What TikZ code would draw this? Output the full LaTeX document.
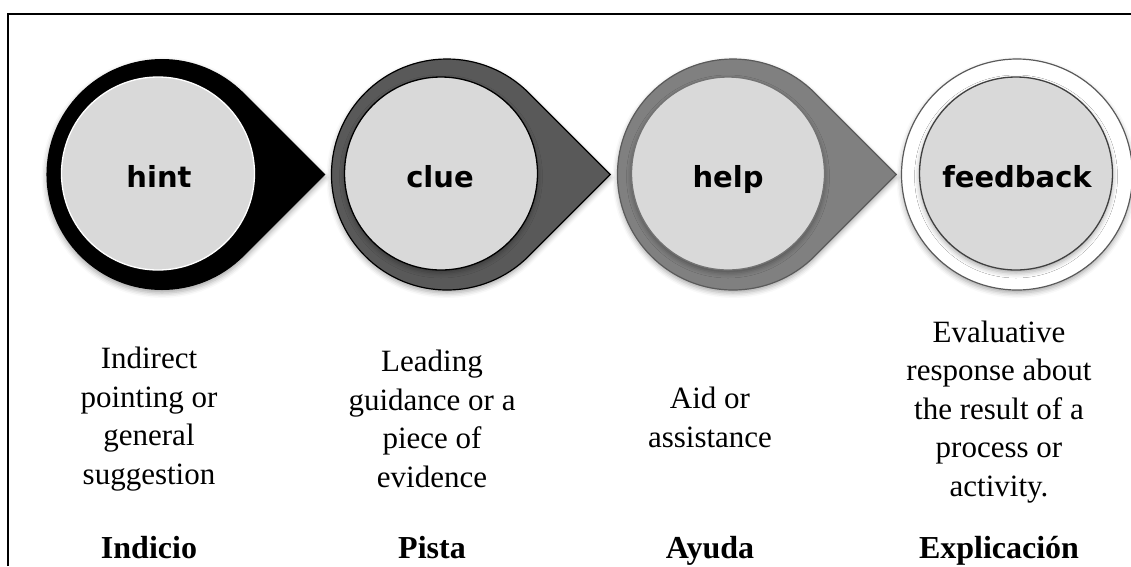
\documentclass[tikz,border=0pt]{standalone}
\usepackage{fontspec}
\setmainfont{Liberation Serif}
\newfontfamily\stepfont{DejaVu Sans}
\usetikzlibrary{shadows.blur}

\definecolor{ringmid}{HTML}{595959}
\definecolor{ringlight}{HTML}{808080}
\definecolor{ringedge}{HTML}{5A5A5A}
\definecolor{corefill}{HTML}{D9D9D9}

\begin{document}
\begin{tikzpicture}[x=1pt,y=1pt,
  softshadow/.style={blur shadow={shadow xshift=0pt,shadow yshift=-3pt,shadow blur radius=5pt,shadow opacity=35}},
  drop/.style={softshadow, line width=1.2pt},
  core/.style={circle, minimum size=193pt, inner sep=0pt, fill=corefill, line width=1.3pt, softshadow},
  steplabel/.style={anchor=base, font=\stepfont\bfseries\fontsize{29}{35}\selectfont},
  desc/.style={align=center, font=\fontsize{31}{38.5}\selectfont},
  term/.style={anchor=base, font=\bfseries\fontsize{32}{38}\selectfont},
]
\useasboundingbox (0,0) rectangle (1131,-566);

% frame
\draw[line width=2pt] (7.5,-566) -- (7.5,-13.5) -- (1131,-13.5);

% centres of the outer rings
\coordinate (c1) at (162,-174.5);
\coordinate (c2) at (447,-174.5);
\coordinate (c3) at (733,-174.5);
\coordinate (c4) at (1017,-174.5);

% teardrop rings pointing to the next step
\path[drop, fill=black]
  (c1) ++(0:163.3) -- ++(135:115.5) arc[start angle=45,end angle=315,radius=115.5] -- cycle;
\path[drop, fill=ringmid, draw=black]
  (c2) ++(0:163.3) -- ++(135:115.5) arc[start angle=45,end angle=315,radius=115.5] -- cycle;
\path[drop, fill=ringlight, draw=ringedge]
  (c3) ++(0:163.3) -- ++(135:115.5) arc[start angle=45,end angle=315,radius=115.5] -- cycle;
\node[drop, circle, minimum size=231pt, inner sep=0pt, fill=white, draw=ringedge] (fbring) at (c4) {};

% inner discs
\node[core, draw=white] (hintcore) at (158,-173.5) {};
\node[core, draw=black] (cluecore) at (441,-173.5) {};
\node[core, draw=ringedge!85] (helpcore) at (728,-173.5) {};
\node[core, draw=black!75] (fbcore) at (1016,-173.5) {};

% step names
\node[steplabel] (hint) at (159,-187) {hint};
\node[steplabel] (clue) at (440,-187) {clue};
\node[steplabel] (help) at (728,-187) {help};
\node[steplabel] (feedback) at (1017,-187) {feedback};

% descriptions
\node[desc] (hintdesc) at (149,-419) {Indirect\\pointing or\\general\\suggestion};
\node[desc] (cluedesc) at (432,-419) {Leading\\guidance or a\\piece of\\evidence};
\node[desc] (helpdesc) at (710,-417.5) {Aid or\\assistance};
\node[desc] (fbdesc) at (999,-412) {Evaluative\\response about\\the result of a\\process or\\activity.};

% Spanish terms
\node[term] (indicio) at (149,-558) {Indicio};
\node[term] (pista) at (432,-558) {Pista};
\node[term] (ayuda) at (710,-558) {Ayuda};
\node[term] (explicacion) at (999,-558) {Explicación};
\end{tikzpicture}
\end{document}
